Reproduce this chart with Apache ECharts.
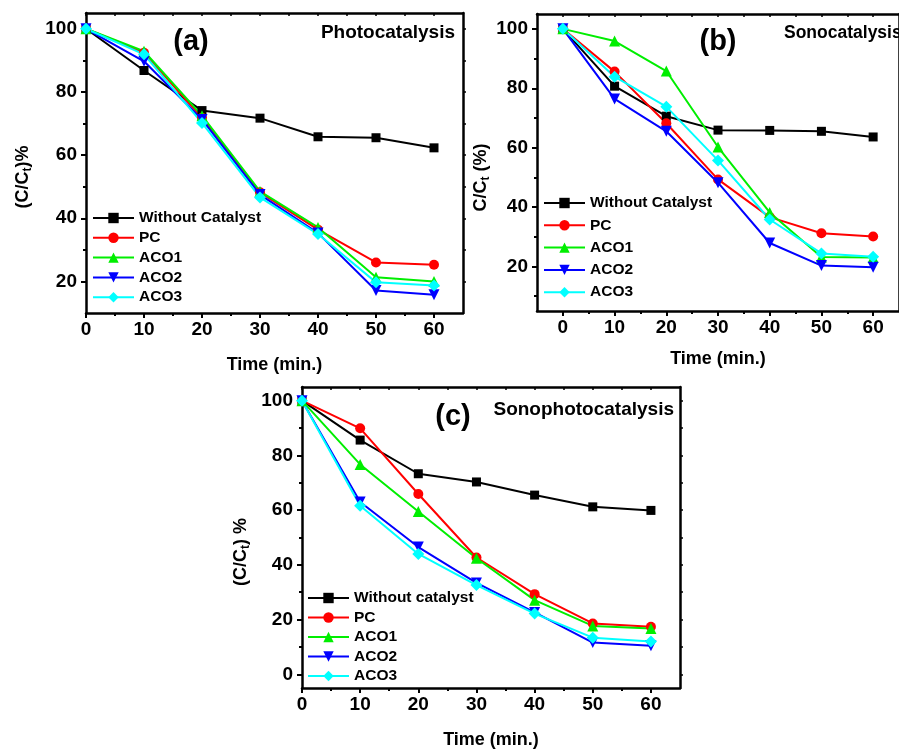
<!DOCTYPE html>
<html><head><meta charset="utf-8">
<script src="https://cdn.jsdelivr.net/npm/echarts@6/dist/echarts.min.js"></script>
<style>html,body{margin:0;padding:0;background:#fff}#c{width:899px;height:750px}</style>
</head><body><div id="c"></div>
<script>
const time = [0, 10, 20, 30, 40, 50, 60];
const xLabels = [0, 10, 20, 30, 40, 50, 60];
const xMinor = [5, 15, 25, 35, 45, 55];

const namesAB = ['Without Catalyst', 'PC', 'ACO1', 'ACO2', 'ACO3'];
const namesC = ['Without catalyst', 'PC', 'ACO1', 'ACO2', 'ACO3'];

// (a) Photocatalysis
const a_without = [100, 86.8, 74.1, 71.7, 65.8, 65.5, 62.3];
const a_pc      = [100, 92.4, 71.8, 48.2, 36.4, 26.0, 25.3];
const a_aco1    = [100, 92.9, 72.5, 48.5, 37.1, 21.3, 20.0];
const a_aco2    = [100, 89.7, 71.3, 47.5, 35.3, 17.1, 15.8];
const a_aco3    = [100, 91.9, 70.2, 46.6, 35.0, 19.7, 18.7];
const a_yLabels = [20, 40, 60, 80, 100];
const a_yMinor  = [30, 50, 70, 90];

// (b) Sonocatalysis
const b_without = [100, 80.7, 70.6, 65.9, 65.8, 65.5, 63.6];
const b_pc      = [100, 85.6, 68.2, 49.3, 36.6, 31.2, 30.1];
const b_aco1    = [100, 95.9, 85.8, 60.2, 38.2, 23.2, 23.0];
const b_aco2    = [100, 76.4, 65.5, 48.2, 27.9, 20.3, 19.7];
const b_aco3    = [100, 83.9, 73.8, 55.7, 35.8, 24.4, 23.3];
const b_yLabels = [20, 40, 60, 80, 100];
const b_yMinor  = [10, 30, 50, 70, 90];

// (c) Sonophotocatalysis
const c_without = [100, 85.6, 73.3, 70.3, 65.5, 61.2, 59.9];
const c_pc      = [100, 89.9, 65.9, 42.7, 29.3, 18.6, 17.4];
const c_aco1    = [100, 76.7, 59.5, 42.4, 27.1, 17.7, 16.7];
const c_aco2    = [100, 63.0, 46.5, 33.4, 22.6, 11.6, 10.4];
const c_aco3    = [100, 61.6, 44.0, 32.6, 22.2, 13.4, 12.0];
const c_yLabels = [0, 20, 40, 60, 80, 100];
const c_yMinor  = [10, 30, 50, 70, 90];

const colors = ['#000000', '#ff0000', '#00ee00', '#0000ff', '#00ffff'];
const symbols = ['rect', 'circle', 'triangle', 'triangle', 'diamond'];
const symSizes = [9, 10, 11, 11, 12];
const symRot = [0, 0, 0, 180, 0];
const FONT = '"Liberation Sans", Arial, sans-serif';

const chart = echarts.init(document.getElementById('c'));

const grids = [
  {left: 86, top: 13, width: 377, height: 300},
  {left: 537, top: 14, width: 371, height: 297},
  {left: 302, top: 387, width: 378, height: 303}
];
const panels = [
  {xmin: 0, xmax: 65, ymin: 10, ymax: 105, yl: a_yLabels, ym: a_yMinor, names: namesAB,
   data: [a_without, a_pc, a_aco1, a_aco2, a_aco3], yname: '{b|(C/C}{s|t}{b|)%}', ygap: 52, xgap: 43, ypad: 28},
  {xmin: -5, xmax: 65, ymin: 5, ymax: 105, yl: b_yLabels, ym: b_yMinor, names: namesAB,
   data: [b_without, b_pc, b_aco1, b_aco2, b_aco3], yname: '{b|C/C}{s|t}{b| (%)}', ygap: 45, xgap: 39, ypad: 30},
  {xmin: 0, xmax: 65, ymin: -5, ymax: 105, yl: c_yLabels, ym: c_yMinor, names: namesC,
   data: [c_without, c_pc, c_aco1, c_aco2, c_aco3], yname: '{b|(C/C}{s|t}{b|) %}', ygap: 50, xgap: 43, ypad: 29}
];

const axisLine = {show: true, onZero: false, lineStyle: {color: '#000', width: 2.5}};
const noLine = {show: false, onZero: false};
const xAxes = [], yAxes = [], series = [];
panels.forEach((p, gi) => {
  const xi = xAxes.length, yi = yAxes.length;
  xAxes.push({type: 'value', gridIndex: gi, min: p.xmin, max: p.xmax, position: 'bottom',
    axisLine, splitLine: {show: false},
    axisTick: {show: true, customValues: xLabels, length: 5, lineStyle: {width: 2, color: '#000'}},
    axisLabel: {customValues: xLabels, margin: 7, color: '#000', fontSize: 19, fontWeight: 'bold', fontFamily: FONT},
    name: 'Time (min.)', nameLocation: 'middle', nameGap: p.xgap,
    nameTextStyle: {color: '#000', fontSize: 18, fontWeight: 'bold', fontFamily: FONT}});
  xAxes.push({type: 'value', gridIndex: gi, min: p.xmin, max: p.xmax, position: 'bottom',
    axisLine: noLine, splitLine: {show: false}, axisLabel: {show: false},
    axisTick: {show: true, customValues: xMinor, length: 3, lineStyle: {width: 2, color: '#000'}}});
  xAxes.push({type: 'value', gridIndex: gi, min: p.xmin, max: p.xmax, position: 'top',
    axisLine, splitLine: {show: false}, axisLabel: {show: false},
    axisTick: {show: true, inside: true, customValues: xLabels.concat(xMinor), length: 3, lineStyle: {width: 1.5, color: '#000'}}});
  yAxes.push({type: 'value', gridIndex: gi, min: p.ymin, max: p.ymax, position: 'left',
    axisLine, splitLine: {show: false},
    axisTick: {show: true, customValues: p.yl, length: 5, lineStyle: {width: 2, color: '#000'}},
    axisLabel: {customValues: p.yl, margin: 9, color: '#000', fontSize: 19, fontWeight: 'bold', fontFamily: FONT},
    name: p.yname, nameLocation: 'middle', nameGap: p.ygap, nameRotate: 90,
    nameTextStyle: {color: '#000', fontFamily: FONT, padding: [0, p.ypad, 0, 0],
      rich: {b: {fontSize: 18, fontWeight: 'bold', fontFamily: FONT, color: '#000'},
             s: {fontSize: 12, fontWeight: 'bold', fontFamily: FONT, color: '#000', verticalAlign: 'bottom', padding: [10, 0, 0, 0]}}}});
  yAxes.push({type: 'value', gridIndex: gi, min: p.ymin, max: p.ymax, position: 'left',
    axisLine: noLine, splitLine: {show: false}, axisLabel: {show: false},
    axisTick: {show: true, customValues: p.ym, length: 3, lineStyle: {width: 2, color: '#000'}}});
  yAxes.push({type: 'value', gridIndex: gi, min: p.ymin, max: p.ymax, position: 'right',
    axisLine, splitLine: {show: false}, axisLabel: {show: false},
    axisTick: {show: true, customValues: p.yl.concat(p.ym), length: 3, lineStyle: {width: 1.5, color: '#000'}}});

  p.data.forEach((vals, si) => {
    series.push({type: 'line', name: p.names[si], xAxisIndex: xi, yAxisIndex: yi,
      data: time.map((t, k) => [t, vals[k]]),
      symbol: symbols[si], symbolSize: symSizes[si], symbolRotate: symRot[si],
      showAllSymbol: true, clip: false,
      lineStyle: {color: colors[si], width: 2}, itemStyle: {color: colors[si]},
      emphasis: {disabled: true}, animation: false});
  });
});

const legendBase = {orient: 'vertical', itemWidth: 41, itemHeight: 13, padding: 0,
  textStyle: {color: '#000', fontSize: 15.5, fontWeight: 'bold', fontFamily: FONT, lineHeight: 15},
  selectedMode: false};
const legends = [
  Object.assign({}, legendBase, {left: 92, top: 210, itemGap: 3.8, data: namesAB}),
  Object.assign({}, legendBase, {left: 543, top: 195, itemGap: 6.3, data: namesAB}),
  Object.assign({}, legendBase, {left: 307, top: 590, itemGap: 3.5, data: namesC})
];

function txt(x, y, s, size, align) {
  return {type: 'text', x: x, y: y, style: {text: s, fill: '#000', font: 'bold ' + size + 'px ' + FONT,
    align: align, verticalAlign: 'middle'}};
}

chart.setOption({
  animation: false,
  grid: grids,
  xAxis: xAxes,
  yAxis: yAxes,
  legend: legends,
  series: series,
  graphic: [
    txt(191, 42, '(a)', 29, 'center'),
    txt(455, 33, 'Photocatalysis', 19, 'right'),
    txt(718, 42, '(b)', 29, 'center'),
    txt(784, 33, 'Sonocatalysis', 17.5, 'left'),
    txt(453, 417, '(c)', 29, 'center'),
    txt(674, 410, 'Sonophotocatalysis', 19, 'right')
  ]
});
</script></body></html>
